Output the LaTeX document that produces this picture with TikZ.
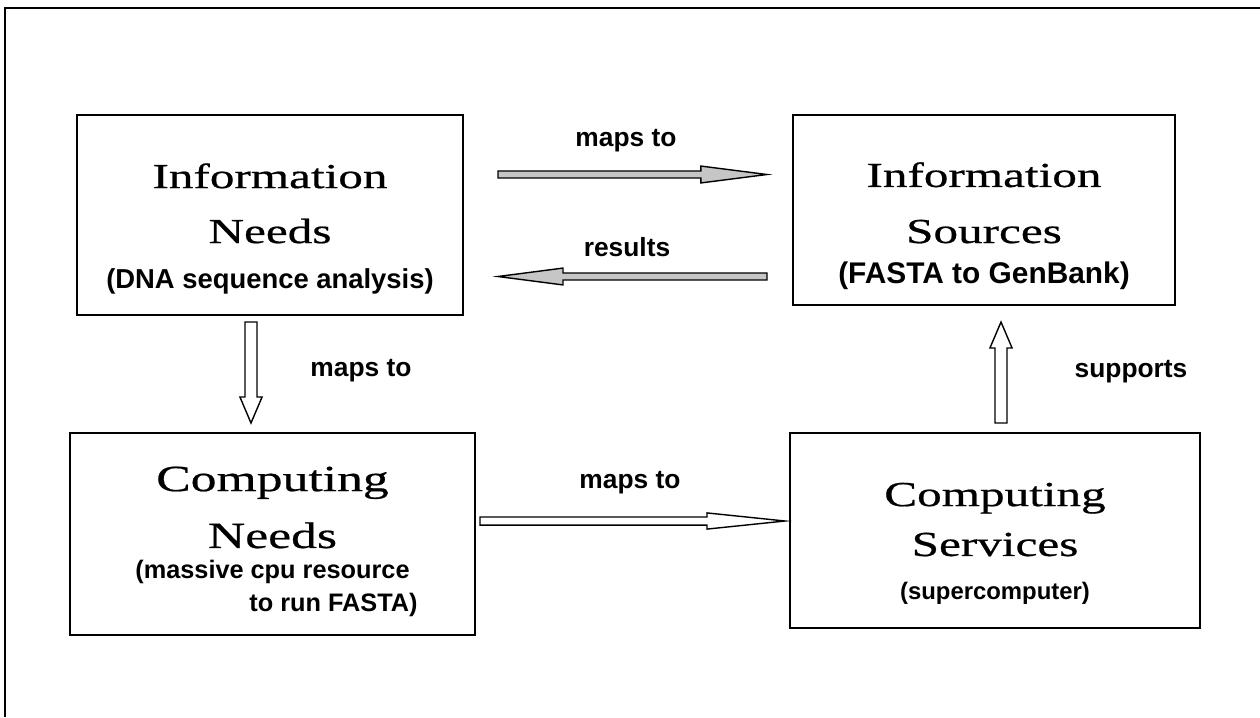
\documentclass[tikz,border=0pt]{standalone}
\usepackage{fontspec}
\usetikzlibrary{calc}
\newfontfamily\boxtitle[FakeStretch=1.4, FakeBold=0.6]{Liberation Serif}
\newfontfamily\boxsub{Liberation Sans}
\newcommand{\subtxt}[2]{{\boxsub\bfseries\fontsize{#1}{#1}\selectfont #2}}

\tikzset{
  sysbox/.style={draw, line width=1.1pt, inner sep=0pt, align=center},
  lbl/.style={font=\boxsub\bfseries\fontsize{15}{18}\selectfont, inner sep=0pt},
  fatarrow/.style n args={3}{draw, line width=0.8pt, to path={
    let \p1=(\tikztostart), \p2=(\tikztotarget), \p3=($(\p2)!#3!(\p1)$) in
    ($(\p1)!#1!90:(\p2)$) -- ($(\p3)!#1!-90:(\p1)$) -- ($(\p3)!#2!-90:(\p1)$)
    -- (\p2) -- ($(\p3)!#2!90:(\p1)$) -- ($(\p3)!#1!90:(\p1)$)
    -- ($(\p1)!#1!-90:(\p2)$) -- cycle}},
}

\begin{document}
\begin{tikzpicture}[x=0.02cm, y=-0.02cm]
  \useasboundingbox (0,0) rectangle (1260,717);
  \draw[line width=1.7pt] (5,717) -- (5,8) -- (1260,8);

  % the four boxes
  \node[sysbox, minimum width=7.72cm, minimum height=4cm, font=\boxtitle\fontsize{20}{24}\selectfont] (infoneeds) at (270,215)
    {\rule{0pt}{29.5pt}Information\\[7.3pt] Needs\\[1.6pt] \subtxt{15.6}{(DNA sequence analysis)}};
  \node[sysbox, minimum width=7.64cm, minimum height=3.8cm, font=\boxtitle\fontsize{20}{24}\selectfont] (infosrc) at (984,210)
    {\rule{0pt}{32pt}Information\\[7.9pt] Sources\\[-1.2pt] \subtxt{17}{(FASTA to GenBank)}};
  \node[sysbox, minimum width=8.1cm, minimum height=4.04cm, font=\boxtitle\fontsize{21}{24}\selectfont] (compneeds) at (272.5,534)
    {\rule{0pt}{22.9pt}Computing\\[8.4pt] Needs\\[-6.4pt]
     \subtxt{14.4}{(massive cpu resource\hspace*{36.4pt}}\\[-5.2pt]
     \subtxt{14.4}{\hspace*{69.4pt}to run FASTA)}};
  \node[sysbox, minimum width=8.2cm, minimum height=3.9cm, font=\boxtitle\fontsize{20}{24}\selectfont] (compsvc) at (995,530.5)
    {\rule{0pt}{28.4pt}Computing\\[4.4pt] Services\\[1pt] \subtxt{13.6}{(supercomputer)}};

  % arrow ends
  \coordinate (needsout) at (498,174.5);
  \coordinate (srcin) at (767,174.5);
  \coordinate (srcout) at (767,276.5);
  \coordinate (needsin) at (498,276.5);
  \coordinate (infodown) at (251,322);
  \coordinate (compup) at (251,423);
  \coordinate (cneedsout) at (480,521);
  \coordinate (csvcin) at (785,521);
  \coordinate (csvcout) at (1001,423);
  \coordinate (srcbelow) at (1001,322);

  \draw[fatarrow={2pt}{4.8pt}{37.6pt}, fill=gray!45] (needsout) to (srcin);
  \draw[fatarrow={2pt}{4.8pt}{37pt}, fill=gray!45] (srcout) to (needsin);
  \draw[fatarrow={3.4pt}{6.3pt}{14.8pt}, fill=white] (infodown) to (compup);
  \draw[fatarrow={2.3pt}{4.6pt}{44.4pt}, fill=white] (cneedsout) to (csvcin);
  \draw[fatarrow={3.4pt}{6.3pt}{14.8pt}, fill=white] (csvcout) to (srcbelow);

  \node[lbl] (lblmaps1) at (626,141) {maps to};
  \node[lbl] (lblres) at (627,247) {results};
  \node[lbl] (lblmaps2) at (361,371) {maps to};
  \node[lbl] (lblmaps3) at (630,483) {maps to};
  \node[lbl] (lblsup) at (1131,372) {supports};
\end{tikzpicture}
\end{document}
